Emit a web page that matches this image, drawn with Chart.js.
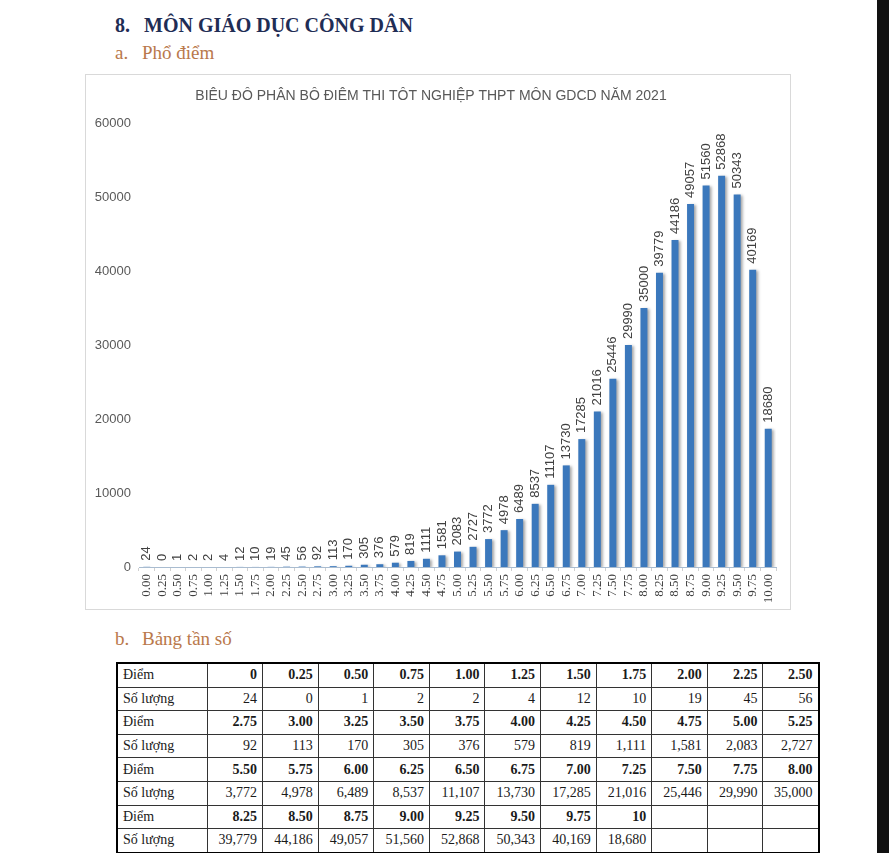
<!DOCTYPE html>
<html>
<head>
<meta charset="utf-8">
<script src="https://cdn.jsdelivr.net/npm/chart.js@4"></script>
<style>
  body { margin: 0; background: #fff; width: 889px; height: 853px; overflow: hidden; position: relative; }
  .h1 { position: absolute; top: 15px; font: bold 20px "Liberation Serif", serif; color: #1f2d55; line-height: 20px; white-space: nowrap; }
  .h2 { position: absolute; font: 19px "Liberation Serif", serif; color: #b9784b; line-height: 20px; white-space: nowrap; }
  #box { position: absolute; left: 85px; top: 74px; width: 704px; height: 534px; border: 1px solid #d9d9d9; }
  #box canvas { position: absolute; left: 0; top: 0; }
  #edge { position: absolute; left: 877px; top: 0; width: 12px; height: 853px; background: #111; }
  #tbl { position: absolute; left: 116px; top: 662px; border-collapse: collapse; table-layout: fixed;
         border: 2px solid #000; font: 14px "Liberation Serif", serif; color: #1a1a1a; }
  #tbl td { border: 1px solid #333; height: 22.6px; padding: 0 5px 0 5px; text-align: right; white-space: nowrap; overflow: hidden; }
  #tbl td.lab { text-align: left; font-weight: normal; }
  #tbl tr.sc td.v { font-weight: bold; }
</style>
</head>
<body>
<div class="h1" style="left:115px">8.</div>
<div class="h1" style="left:144px">MÔN GIÁO DỤC CÔNG DÂN</div>
<div class="h2" style="left:115px;top:43px">a.</div>
<div class="h2" style="left:142px;top:43px">Phổ điểm</div>
<div id="box"><canvas id="myChart" width="704" height="534"></canvas></div>
<div class="h2" style="left:115px;top:629px">b.</div>
<div class="h2" style="left:142px;top:629px">Bảng tần số</div>
<table id="tbl"></table>
<div id="edge"></div>
<script>
var scoreLabels = ['0.00','0.25','0.50','0.75','1.00','1.25','1.50','1.75','2.00','2.25','2.50',
    '2.75','3.00','3.25','3.50','3.75','4.00','4.25','4.50','4.75','5.00','5.25',
    '5.50','5.75','6.00','6.25','6.50','6.75','7.00','7.25','7.50','7.75','8.00',
    '8.25','8.50','8.75','9.00','9.25','9.50','9.75','10.00']
var counts = [24, 0, 1, 2, 2, 4, 12, 10, 19, 45, 56,
    92, 113, 170, 305, 376, 579, 819, 1111, 1581, 2083, 2727,
    3772, 4978, 6489, 8537, 11107, 13730, 17285, 21016, 25446, 29990, 35000,
    39779, 44186, 49057, 51560, 52868, 50343, 40169, 18680]
var tableScoreLabels = ['0','0.25','0.50','0.75','1.00','1.25','1.50','1.75','2.00','2.25','2.50',
    '2.75','3.00','3.25','3.50','3.75','4.00','4.25','4.50','4.75','5.00','5.25',
    '5.50','5.75','6.00','6.25','6.50','6.75','7.00','7.25','7.50','7.75','8.00',
    '8.25','8.50','8.75','9.00','9.25','9.50','9.75','10']
var chartTitle = 'BIÊU ĐÔ PHÂN BÔ ĐIÊM THI TÔT NGHIỆP THPT MÔN GDCD NĂM 2021'

// bar shadow + rotated value labels
var barLabels = {
    id: 'barLabels',
    beforeDatasetsDraw: function(chart) {
        var ctx = chart.ctx
        ctx.save()
        ctx.shadowColor = 'rgba(0,0,0,0.35)'
        ctx.shadowBlur = 3
        ctx.shadowOffsetX = 2
        ctx.shadowOffsetY = 1
    },
    afterDatasetsDraw: function(chart) {
        var ctx = chart.ctx
        ctx.restore()
        var meta = chart.getDatasetMeta(0)
        ctx.save()
        ctx.font = '13px "Liberation Sans", sans-serif'
        ctx.fillStyle = '#404040'
        ctx.textAlign = 'left'
        ctx.textBaseline = 'middle'
        meta.data.forEach(function(bar, i) {
            ctx.save()
            ctx.translate(bar.x, bar.y - 6)
            ctx.rotate(-Math.PI / 2)
            ctx.fillText(String(counts[i]), 0, 0)
            ctx.restore()
        })
        ctx.restore()
    }
}

var ctx = document.getElementById('myChart')
var myChart = new Chart(ctx, {
    type: 'bar',
    data: {
        labels: scoreLabels,
        datasets: [{
            data: counts,
            backgroundColor: '#3b78bc',
            barPercentage: 0.45,
            categoryPercentage: 1
        }]
    },
    options: {
        responsive: false,
        animation: false,
        layout: { padding: { left: 0, right: 14, top: 0, bottom: 0 } },
        plugins: {
            legend: { display: false },
            tooltip: { enabled: false },
            title: {
                display: true,
                text: chartTitle,
                color: '#595959',
                font: { family: 'Liberation Sans', size: 14, weight: 'normal' },
                padding: { top: 12.6, bottom: 18.6 }
            }
        },
        scales: {
            x: {
                grid: { display: true, drawOnChartArea: false, drawTicks: true, tickLength: 4, offset: true, color: '#d0d0d0' },
                border: { display: true, color: '#a9bcd0' },
                ticks: {
                    autoSkip: false, minRotation: 90, maxRotation: 90, padding: 3,
                    color: '#404040', font: { family: 'Liberation Serif', size: 13 }
                },
                afterFit: function(scale) { scale.height = 42 }
            },
            y: {
                min: 0, max: 60000,
                grid: { display: false, drawTicks: false },
                border: { display: false },
                ticks: {
                    stepSize: 10000, padding: 8, color: '#595959',
                    font: { family: 'Liberation Sans', size: 13 },
                    callback: function(v) { return String(v) }
                },
                afterFit: function(scale) { scale.width = 53 }
            }
        }
    },
    plugins: [barLabels]
})

// frequency table: 11 score columns per row pair
var tbl = document.getElementById('tbl')
var colgroup = '<colgroup><col style="width:90px">'
for (var c = 0; c < 11; c++) colgroup += '<col style="width:55.6px">'
tbl.innerHTML = colgroup + '</colgroup>'
function fmt(n) { return n.toLocaleString('en-US') }
for (var r = 0; r < tableScoreLabels.length; r += 11) {
    var tr1 = document.createElement('tr')
    tr1.className = 'sc'
    var tr2 = document.createElement('tr')
    var h1 = '<td class="lab">Điểm</td>'
    var h2 = '<td class="lab">Số lượng</td>'
    for (var k = r; k < r + 11; k++) {
        h1 += '<td class="v">' + (k < tableScoreLabels.length ? tableScoreLabels[k] : '') + '</td>'
        h2 += '<td class="v">' + (k < counts.length ? fmt(counts[k]) : '') + '</td>'
    }
    tr1.innerHTML = h1
    tr2.innerHTML = h2
    tbl.appendChild(tr1)
    tbl.appendChild(tr2)
}
</script>
</body>
</html>
